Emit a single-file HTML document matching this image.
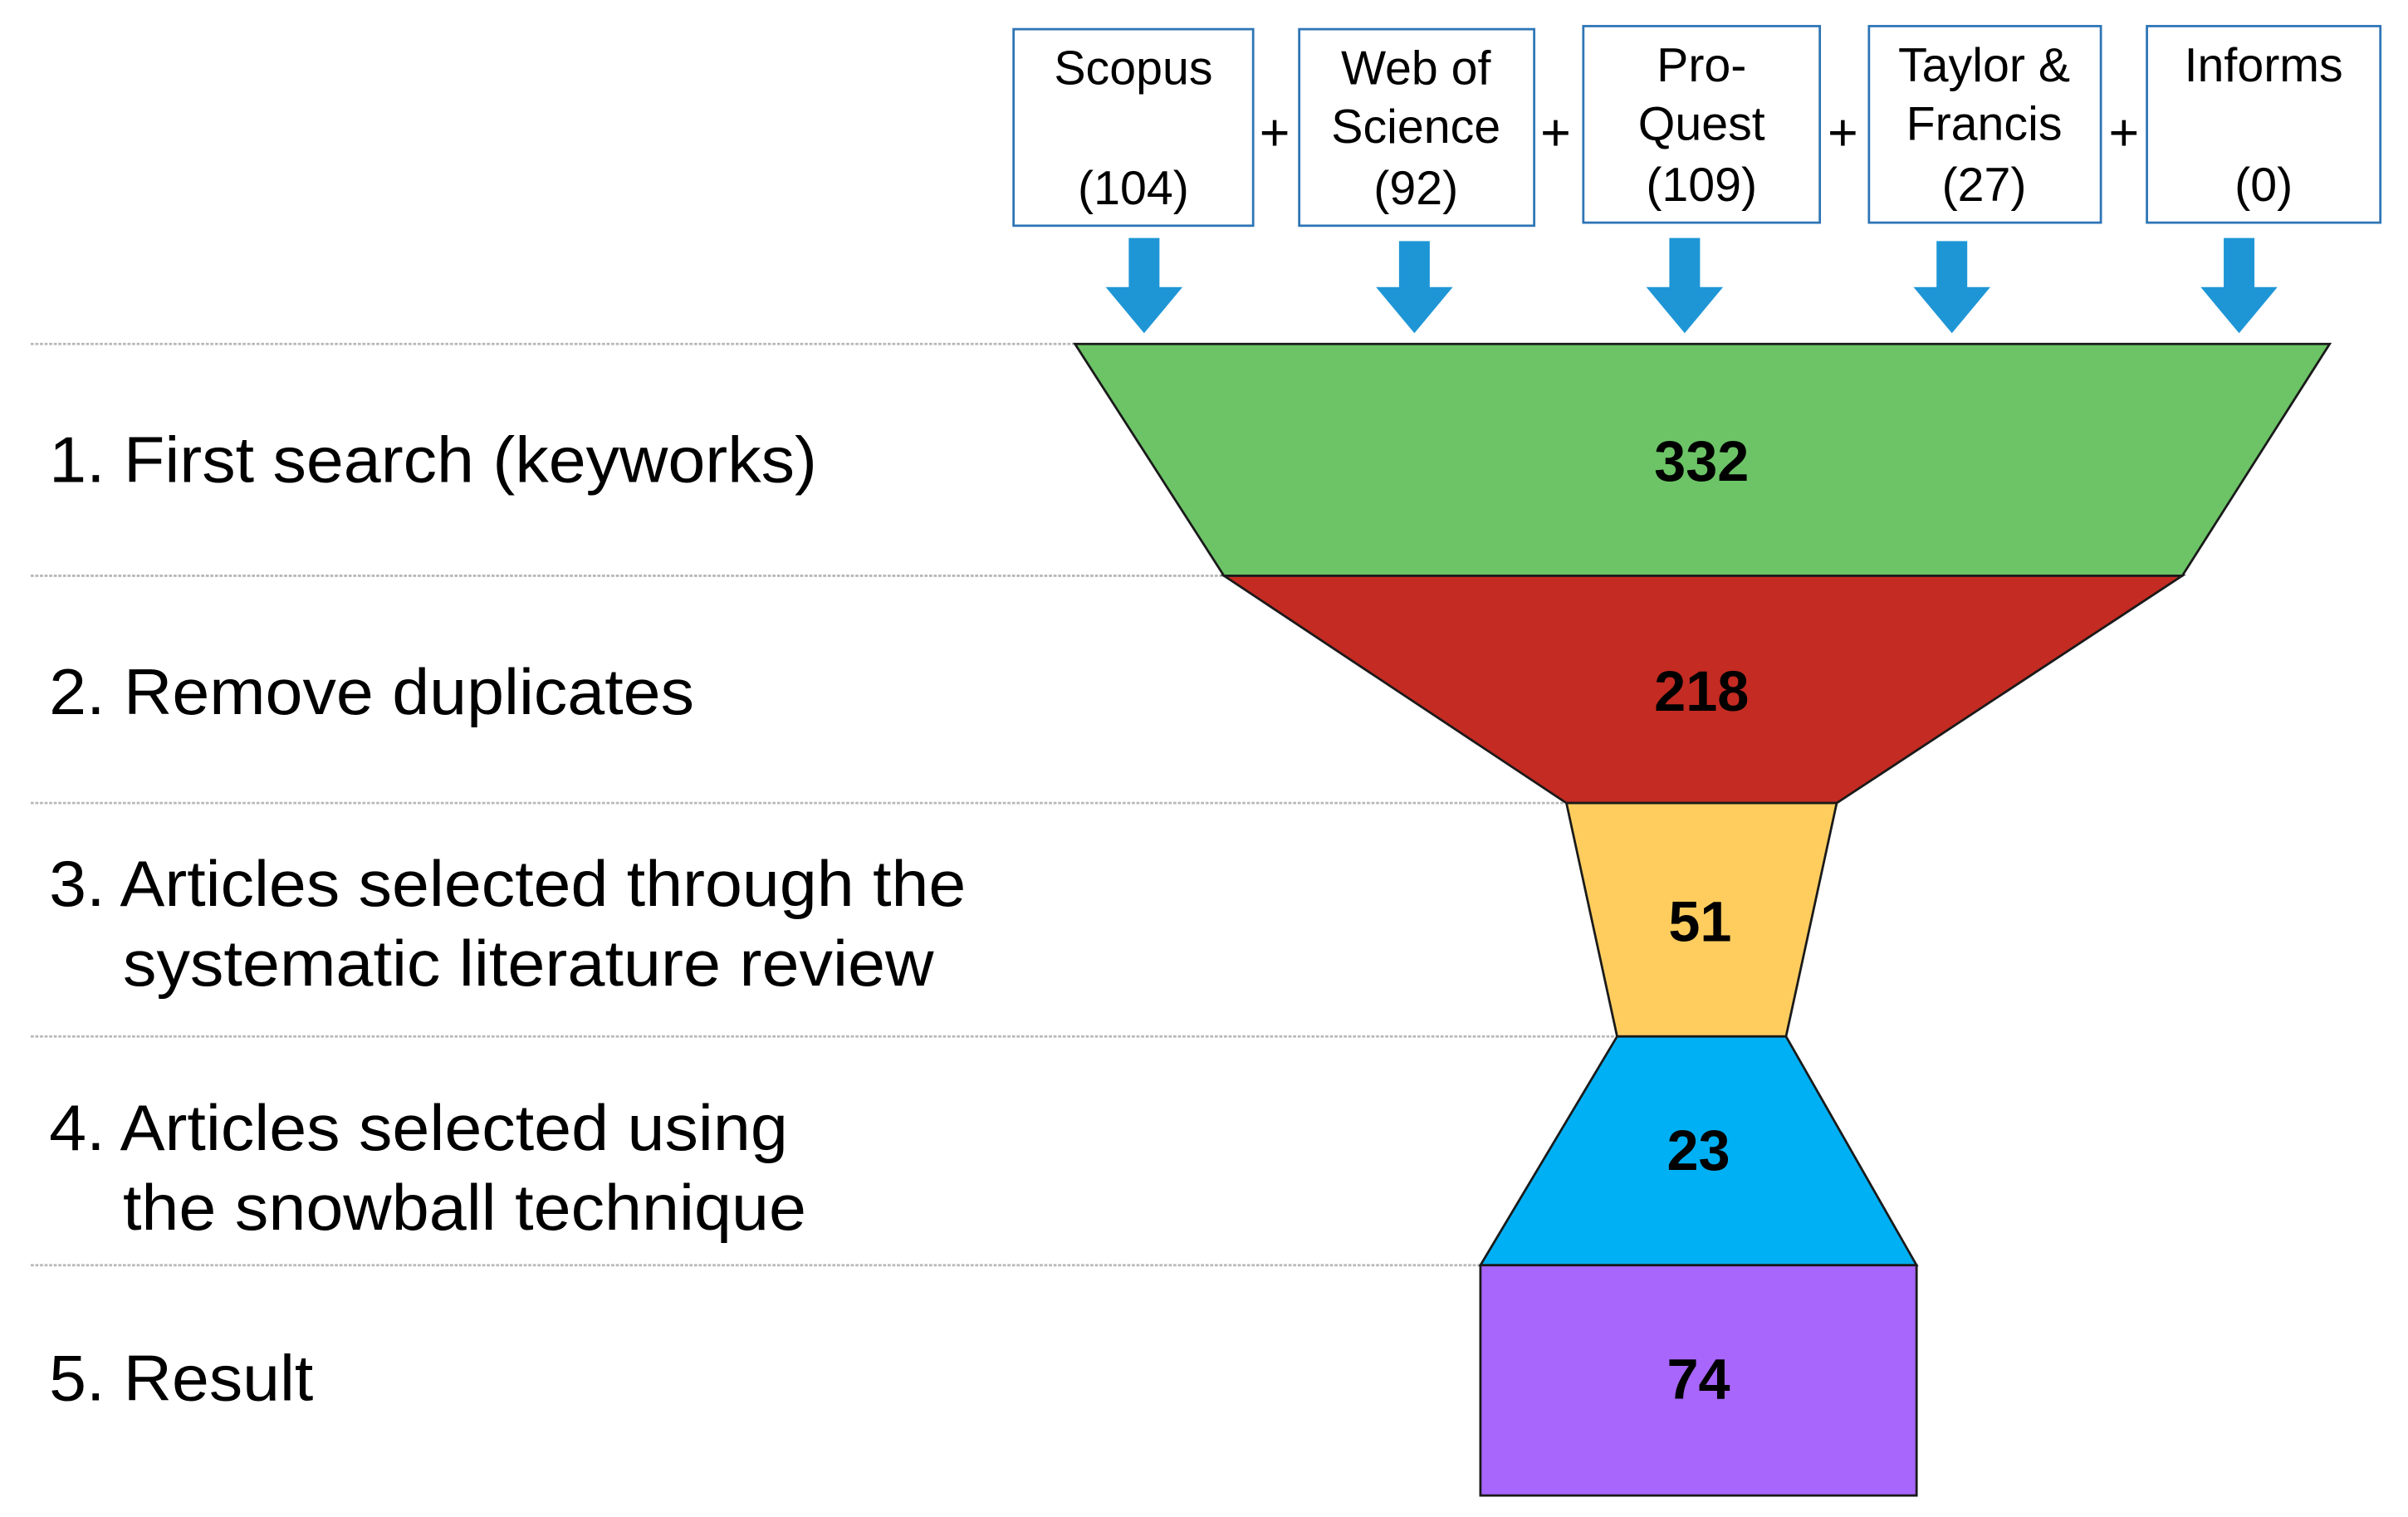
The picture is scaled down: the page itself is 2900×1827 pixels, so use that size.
<!DOCTYPE html>
<html><head><meta charset="utf-8"><style>html,body{margin:0;padding:0;background:#fff}svg{display:block}</style></head>
<body>
<svg width="2900" height="1827" viewBox="0 0 1568 988" preserveAspectRatio="none" xmlns="http://www.w3.org/2000/svg" font-family="Liberation Sans, Arial, sans-serif">
<rect width="1568" height="988" fill="#fff"/>
<g stroke="#b8b8b8" stroke-width="1.5" stroke-dasharray="2,1">
<line x1="20" y1="224" x2="700" y2="224"/>
<line x1="20" y1="375" x2="797" y2="375"/>
<line x1="20" y1="523" x2="1020" y2="523"/>
<line x1="20" y1="675" x2="1053" y2="675"/>
<line x1="20" y1="824" x2="964" y2="824"/>
</g>
<g stroke="#1a1a1a" stroke-width="1.5">
<polygon points="700,224 1517,224 1421,375 797,375" fill="#6cc466"/>
<polygon points="797,375 1421,375 1196,523 1020,523" fill="#c42b22"/>
<polygon points="1020,523 1196,523 1163,675 1053,675" fill="#fecd5e"/>
<polygon points="1053,675 1163,675 1248,824 964,824" fill="#00b0f4"/>
<rect x="964" y="824" width="284" height="150" fill="#a866fc"/>
</g>
<g font-weight="bold" font-size="37" text-anchor="middle" fill="#000">
<text x="1108" y="313">332</text>
<text x="1108" y="463">218</text>
<text x="1107" y="613">51</text>
<text x="1106" y="762">23</text>
<text x="1106" y="911">74</text>
</g>
<g font-size="42" fill="#000" lengthAdjust="spacingAndGlyphs">
<text x="32" y="314" textLength="500" lengthAdjust="spacingAndGlyphs">1. First search (keyworks)</text>
<text x="32" y="465" textLength="420" lengthAdjust="spacingAndGlyphs">2. Remove duplicates</text>
<text x="32" y="590" textLength="597" lengthAdjust="spacingAndGlyphs">3. Articles selected through the</text>
<text x="80" y="642" textLength="528" lengthAdjust="spacingAndGlyphs">systematic literature review</text>
<text x="32" y="749" textLength="481" lengthAdjust="spacingAndGlyphs">4. Articles selected using</text>
<text x="80" y="801" textLength="445" lengthAdjust="spacingAndGlyphs">the snowball technique</text>
<text x="32" y="912" textLength="172" lengthAdjust="spacingAndGlyphs">5. Result</text>
</g>
<g fill="#fff" stroke="#2e75b6" stroke-width="1.5">
<rect x="660" y="19" width="156" height="128"/>
<rect x="846" y="19" width="153" height="128"/>
<rect x="1031" y="17" width="154" height="128"/>
<rect x="1217" y="17" width="151" height="128"/>
<rect x="1398" y="17" width="152" height="128"/>
</g>
<g font-size="31" text-anchor="middle" fill="#000">
<text x="738" y="55">Scopus</text><text x="738" y="133">(104)</text>
<text x="922" y="55">Web of</text><text x="922" y="93">Science</text><text x="922" y="133">(92)</text>
<text x="1108" y="53">Pro-</text><text x="1108" y="91">Quest</text><text x="1108" y="131">(109)</text>
<text x="1292" y="53">Taylor &amp;</text><text x="1292" y="91">Francis</text><text x="1292" y="131">(27)</text>
<text x="1474" y="53">Informs</text><text x="1474" y="131">(0)</text>
</g>
<g font-size="34" text-anchor="middle" fill="#000">
<text x="830" y="98">+</text><text x="1013" y="98">+</text><text x="1200" y="98">+</text><text x="1383" y="98">+</text>
</g>
<g fill="#1e96d6">
<polygon points="735,155 755,155 755,187 770,187 745,217 720,187 735,187"/>
<polygon points="911,157 931,157 931,187 946,187 921,217 896,187 911,187"/>
<polygon points="1087,155 1107,155 1107,187 1122,187 1097,217 1072,187 1087,187"/>
<polygon points="1261,157 1281,157 1281,187 1296,187 1271,217 1246,187 1261,187"/>
<polygon points="1448,155 1468,155 1468,187 1483,187 1458,217 1433,187 1448,187"/>
</g>
</svg>
</body></html>
